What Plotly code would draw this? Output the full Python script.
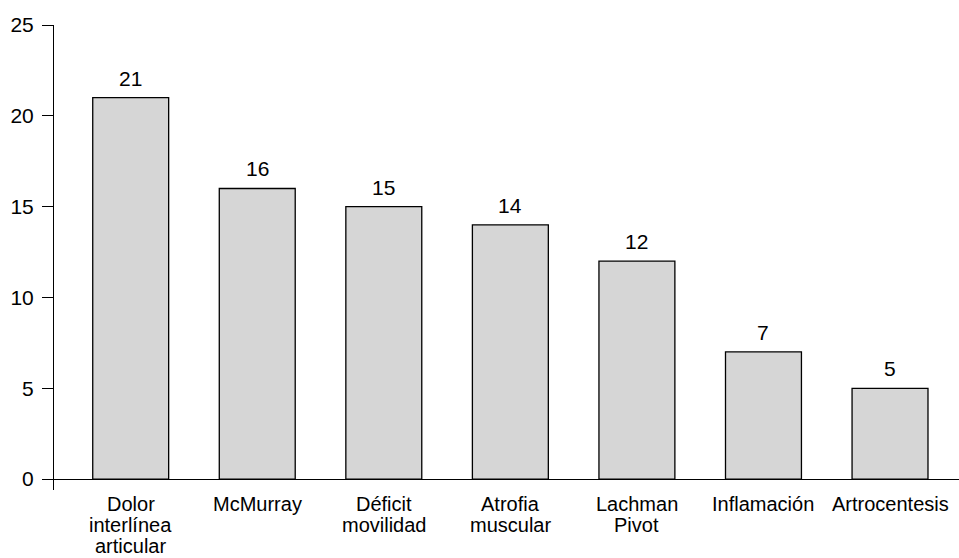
import plotly.graph_objects as go

categories = ["Dolor<br>interlínea<br>articular", "McMurray", "Déficit<br>movilidad",
              "Atrofia<br>muscular", "Lachman<br>Pivot", "Inflamación", "Artrocentesis"]
values = [21, 16, 15, 14, 12, 7, 5]
y_ticks = [0, 5, 10, 15, 20, 25]

FONT = "Liberation Sans, Arial, Helvetica, sans-serif"
FS = 21
XFS = 20

fig = go.Figure()
fig.add_trace(go.Bar(
    x=categories, y=values, width=0.6,
    marker=dict(color="#d6d6d6", line=dict(color="black", width=1.3)),
    hoverinfo="x+y",
))

annotations = []
for c, v in zip(categories, values):
    annotations.append(dict(x=c, y=v, xref="x", yref="y", text=str(v), showarrow=False,
                            yanchor="bottom", yshift=6, font=dict(size=FS, color="black", family=FONT)))
    for i, line in enumerate(c.split("<br>")):
        annotations.append(dict(x=c, y=0, xref="x", yref="paper", text=line, showarrow=False,
                                yanchor="top", yshift=-2 - 21 * i, borderpad=0,
                                font=dict(size=XFS, color="black", family=FONT)))

fig.update_layout(
    width=959, height=558,
    margin=dict(l=54, r=0, t=25, b=68),
    paper_bgcolor="white", plot_bgcolor="white",
    font=dict(family=FONT, size=FS, color="black"),
    showlegend=False,
    annotations=annotations,
    xaxis=dict(type="category", range=[-0.606, 6.545], showticklabels=False, ticks="",
               showline=False, showgrid=False, zeroline=False),
    yaxis=dict(range=[-0.6, 25], tickvals=y_ticks, ticks="outside", ticklen=11, tickwidth=1,
               tickcolor="black", showline=True, linecolor="black", linewidth=1,
               showgrid=False, zeroline=True, zerolinecolor="black", zerolinewidth=1,
               ticklabelstandoff=4, tickfont=dict(size=FS, color="black", family=FONT)),
)

fig.write_html("out.html")
